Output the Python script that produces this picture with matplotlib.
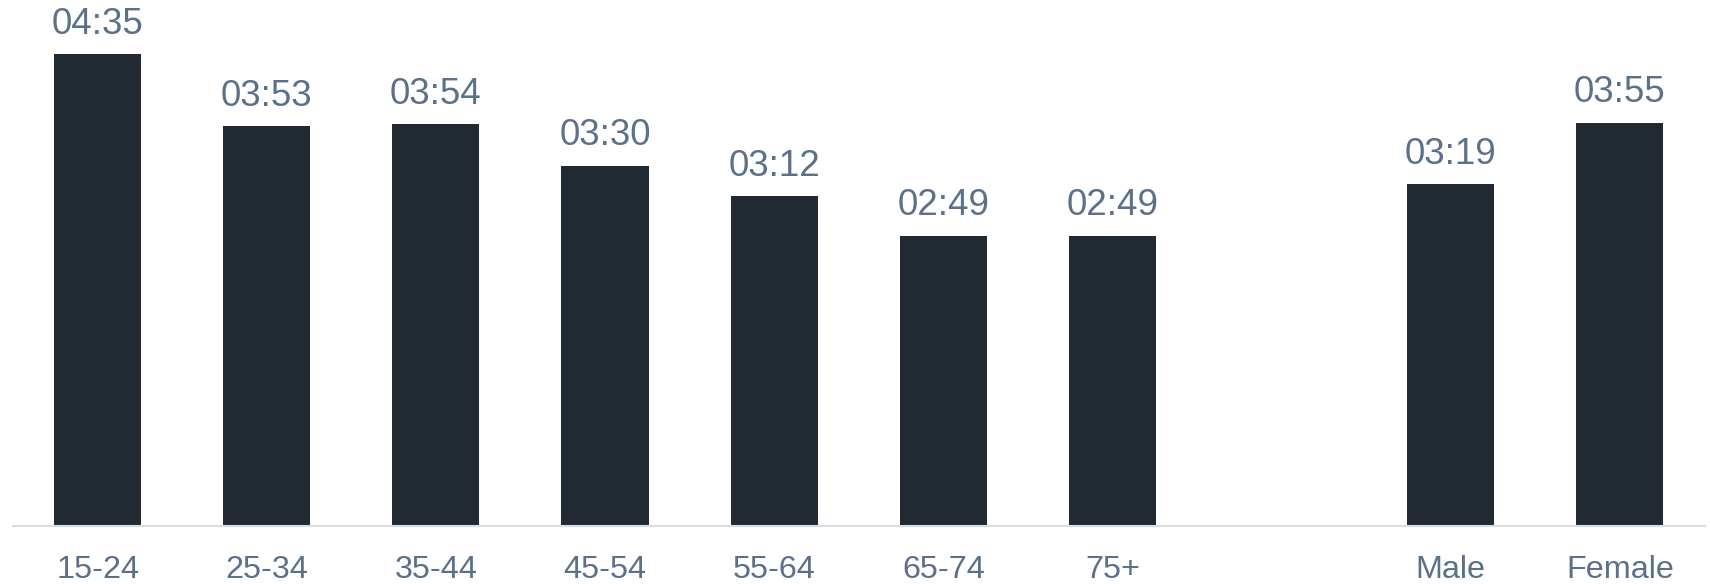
import matplotlib.pyplot as plt

# average daily time (minutes) by age group and by sex
groups = ['15-24', '25-34', '35-44', '45-54', '55-64', '65-74', '75+', 'Male', 'Female']
positions = [0, 1, 2, 3, 4, 5, 6, 8, 9]
minutes = [275, 233, 234, 210, 192, 169, 169, 199, 235]

BAR_COLOR = '#212932'
TEXT_COLOR = '#5b7089'
AXIS_COLOR = '#d8dde6'


def fmt_time(m):
    return f"{m // 60:02d}:{m % 60:02d}"


def main():
    plt.rcParams['font.family'] = ['Liberation Sans', 'DejaVu Sans']
    fig = plt.figure(figsize=(17.1, 5.84), dpi=100)
    ax = fig.add_axes([13 / 1710, 58 / 584, (1704.5 - 13) / 1710, 526 / 584])

    bars = ax.bar(positions, minutes, width=0.515, color=BAR_COLOR)
    for rect, m in zip(bars, minutes):
        ax.annotate(fmt_time(m), (rect.get_x() + rect.get_width() / 2, rect.get_height()),
                    xytext=(0, 9), textcoords='offset points',
                    ha='center', va='bottom', fontsize=26.5, color=TEXT_COLOR)

    ax.set_xlim(-0.5, 9.5)
    ax.set_ylim(0, 306.5)
    ax.set_xticks(positions)
    ax.set_xticklabels(groups, fontsize=23.3, color=TEXT_COLOR)
    ax.tick_params(axis='x', length=0, pad=21)
    ax.set_yticks([])
    for side in ['top', 'right', 'left']:
        ax.spines[side].set_visible(False)
    ax.spines['bottom'].set_color(AXIS_COLOR)
    ax.spines['bottom'].set_linewidth(1.5)

    plt.savefig('out.png', dpi=100)


if __name__ == '__main__':
    main()
